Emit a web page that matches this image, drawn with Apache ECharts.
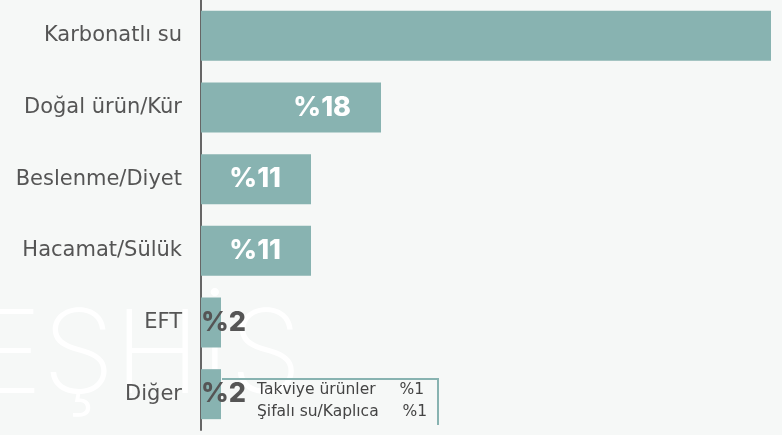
<!DOCTYPE html>
<html>
<head>
<meta charset="utf-8">
<script src="https://cdn.jsdelivr.net/npm/echarts@6/dist/echarts.min.js"></script>
<style>
  html, body { margin: 0; padding: 0; background: #f6f8f7; }
  #chart { width: 782px; height: 435px; }
</style>
</head>
<body>
<div id="chart"></div>
<script>
// kategoriler (yukaridan asagiya)
const categories = ['Karbonatlı su', 'Doğal ürün/Kür', 'Beslenme/Diyet', 'Hacamat/Sülük', 'EFT', 'Diğer'];
const values = [57, 18, 11, 11, 2, 2];
const valueLabels = ['', '%18', '%11', '%11', '%2', '%2'];

// "Diğer" altindaki kutu
const otherNames = ['Takviye ürünler', 'Şifalı su/Kaplıca'];
const otherLabels = ['%1', '%1'];

const FONT = 'DejaVu Sans';
const BOLD_FONT = 'Inter';
const BAR = '#88b3b1';
const TEXT = '#555555';

const chart = echarts.init(document.getElementById('chart'));

const barData = values.map((v, i) => {
  const small = v < 5;
  return {
    value: v,
    label: {
      show: valueLabels[i] !== '',
      formatter: valueLabels[i],
      position: small ? 'insideLeft' : 'insideRight',
      distance: small ? 0 : 30,
      color: small ? TEXT : '#ffffff'
    }
  };
});

const options = {
  backgroundColor: '#f6f8f7',
  animation: false,
  grid: { left: 201, top: -2, width: 580, height: 432 },
  xAxis: {
    type: 'value',
    min: 0,
    max: 58,
    show: false
  },
  yAxis: {
    type: 'category',
    inverse: true,
    data: categories,
    axisLine: { show: true, lineStyle: { color: '#666', width: 2 } },
    axisTick: { show: false },
    axisLabel: { color: TEXT, fontSize: 21, fontFamily: FONT, margin: 19 }
  },
  series: [{
    type: 'bar',
    data: barData,
    barWidth: 50,
    itemStyle: { color: BAR },
    label: {
      show: true,
      fontSize: 27,
      fontWeight: 800,
      fontFamily: BOLD_FONT
    }
  }],
  graphic: [
    {
      type: 'text',
      left: -26,
      top: 300,
      z: -10,
      style: {
        text: 'EŞHİS',
        fontSize: 116,
        fontWeight: 200,
        fontFamily: 'Inter',
        fill: '#ffffff'
      }
    },
    {
      type: 'polyline',
      shape: { points: [[222, 379], [438, 379], [438, 425]] },
      style: { stroke: BAR, lineWidth: 2, fill: null }
    },
    {
      type: 'text', left: 257, top: 382,
      style: { text: otherNames[0], fontSize: 15.5, fontFamily: FONT, fill: '#444' }
    },
    {
      type: 'text', left: 257, top: 404,
      style: { text: otherNames[1], fontSize: 15.5, fontFamily: FONT, fill: '#444' }
    },
    {
      type: 'text', right: 782 - 424, top: 382,
      style: { text: otherLabels[0], fontSize: 15.5, fontFamily: FONT, fill: '#444' }
    },
    {
      type: 'text', right: 782 - 427, top: 404,
      style: { text: otherLabels[1], fontSize: 15.5, fontFamily: FONT, fill: '#444' }
    }
  ]
};

chart.setOption(options);
</script>
</body>
</html>
